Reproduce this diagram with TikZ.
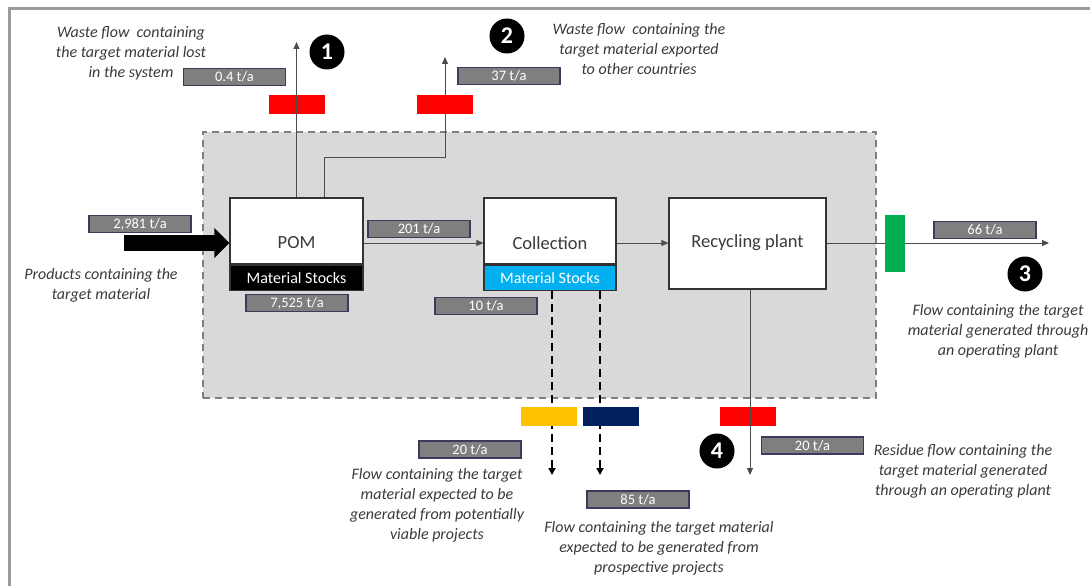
\documentclass[tikz,border=0pt]{standalone}
\usepackage{fontspec}
\setmainfont{Carlito}
\usetikzlibrary{arrows.meta,positioning}

\definecolor{framegray}{HTML}{9A9A9A}
\definecolor{systemfill}{HTML}{D9D9D9}
\definecolor{systemdraw}{HTML}{7F7F7F}
\definecolor{valuegray}{HTML}{7F7F7F}
\definecolor{valueborder}{HTML}{3B3B5C}
\definecolor{textgray}{HTML}{3A3A3A}
\definecolor{flagred}{HTML}{FF0000}
\definecolor{flagyellow}{HTML}{FFC000}
\definecolor{flagnavy}{HTML}{002060}
\definecolor{flaggreen}{HTML}{00B050}
\definecolor{stockblue}{HTML}{00B0F0}

\begin{document}
\begin{tikzpicture}[x=1pt, y=-1pt,
    % Folyamatdobozok
    process box/.style={draw=black!80, line width=1.2pt, fill=white,
        minimum width=133pt, minimum height=66pt, inner sep=0pt},
    stock band/.style={draw=black!80, line width=1.2pt, text=white,
        minimum width=133pt, minimum height=25pt, inner sep=0pt,
        font=\fontsize{16}{18}\selectfont},
    box text/.style={text=textgray, font=\fontsize{18.5}{20}\selectfont},
    % Anyagáramok
    flow/.style={draw=black!70, line width=0.9pt,
        -{Triangle[length=7pt, width=6pt]}},
    stock flow/.style={draw=black, line width=2.3pt, dash pattern=on 8pt off 5pt,
        -{Triangle[length=7pt, width=7pt]}},
    % Értékcímkék, jelzők, számok, feliratok
    value/.style={draw=valueborder, line width=1.5pt, fill=valuegray, text=white,
        minimum width=102pt, minimum height=17pt, inner sep=0pt,
        font=\fontsize{14.5}{15}\selectfont},
    flag/.style={minimum width=56pt, minimum height=19pt, inner sep=0pt},
    number/.style={circle, fill=black, text=white, minimum size=35pt, inner sep=0pt,
        font=\bfseries\fontsize{24}{24}\selectfont},
    note/.style={text=textgray, align=center, font=\itshape\fontsize{16}{20}\selectfont}
]
    \useasboundingbox (0,0) rectangle (1090,586);

    % Külső keret (csak bal és felső él)
    \draw[framegray, line width=3pt] (9,586) -- (9,9) -- (1090,9);

    % Rendszerhatár szaggatott vonallal
    \node[draw=systemdraw, fill=systemfill, line width=1.5pt, dash pattern=on 7pt off 5pt,
        minimum width=673pt, minimum height=266pt, anchor=north west] (system) at (202,131) {};

    % Dobozok
    \node[process box] (pom) at (296.5,231) {};
    \node[stock band, fill=black, anchor=north] (pomst) at (pom.south) {Material Stocks};
    \node[process box, minimum width=132pt] (coll) at (550,231) {};
    \node[stock band, fill=stockblue, minimum width=132pt, anchor=north] (collst) at (coll.south) {Material Stocks};
    \node[process box, minimum width=157pt, minimum height=91pt] (recy) at (747.5,243.5) {};

    % A folyamatok sora
    \coordinate (row) at (0,243);
    \node[box text] (pomtxt) at (pom |- row) {POM};
    \node[box text] (colltxt) at (coll |- row) {Collection};
    \node[box text] (recytxt) at (recy |- row) {Recycling plant};

    % Áramok végpontjai
    \coordinate (in0) at (124,243);
    \coordinate (out1) at (297,42);
    \coordinate (bend2) at (445,157);
    \coordinate (out2) at (445,57);
    \coordinate (out3) at (1049,243);
    \coordinate (out4) at (750,475);
    \coordinate (outY) at (552,475);
    \coordinate (outN) at (600,475);

    % Piros jelzők a vonalak alatt
    \node[flag, fill=flagred] (red1) at (297,104.5) {};
    \node[flag, fill=flagred] (red2) at (445,104.5) {};
    \node[flag, fill=flagred] (red4) at (748,416) {};

    % Anyagáramok
    \draw[line width=16pt, -{Triangle[length=15pt, width=29pt]}] (in0) -- (pom.west |- in0);
    \draw[flow] (pom.east |- row) -- (coll.west |- row);
    \draw[flow] (coll.east |- row) -- (recy.west |- row);
    \draw[flow] (recy.east |- row) -- (out3);
    \draw[flow] (pom.north) -- (pom.north |- out1);
    \draw[flow] ([xshift=27.5]pom.north) |- (bend2) -- (out2);
    \draw[flow] (recy.south -| out4) -- (out4);
    \draw[stock flow] (collst.south -| outY) -- (outY);
    \draw[stock flow] (collst.south -| outN) -- (outN);

    % Többi jelző
    \node[flag, fill=flagyellow] (yellow) at (549,416) {};
    \node[flag, fill=flagnavy] (navy) at (611,416) {};
    \node[flag, fill=flaggreen, minimum width=20pt, minimum height=57pt] (green) at (895,243) {};

    % Értékcímkék
    \node[value] (v1) at (234.5,77) {0.4 t/a};
    \node[value] (v2) at (509,76) {37 t/a};
    \node[value] (vin) at (140,224) {2,981 t/a};
    \node[value] (vpc) at (419,229) {201 t/a};
    \node[value] (vpom) at (297,303) {7,525 t/a};
    \node[value] (vcoll) at (486,306) {10 t/a};
    \node[value] (v3) at (985,230) {66 t/a};
    \node[value] (vY) at (470,449.5) {20 t/a};
    \node[value] (vN) at (638,499.5) {85 t/a};
    \node[value] (v4) at (812.5,445.5) {20 t/a};

    % Számozott körök
    \node[number] (n1) at (327,52) {1};
    \node[number] (n2) at (507,36) {2};
    \node[number] (n3) at (1025,274) {3};
    \node[number] (n4) at (717,451) {4};

    % Feliratok
    \node[note] (note1) at (131,53)
        {Waste flow\ \ containing\\the target material lost\\in the system};
    \node[note] (note2) at (639,49)
        {Waste flow\ \ containing the\\target material exported\\to other countries};
    \node[note] (noteIn) at (101,285) {Products containing the\\target material};
    \node[note] (note3) at (998,331)
        {Flow containing the target\\material generated through\\an operating plant};
    \node[note] (note4) at (963,471)
        {Residue flow containing the\\target material generated\\through an operating plant};
    \node[note] (noteY) at (437,505)
        {Flow containing the target\\material expected to be\\generated from potentially\\viable projects};
    \node[note] (noteN) at (659,548)
        {Flow containing the target material\\expected to be generated from\\prospective projects};
\end{tikzpicture}
\end{document}
